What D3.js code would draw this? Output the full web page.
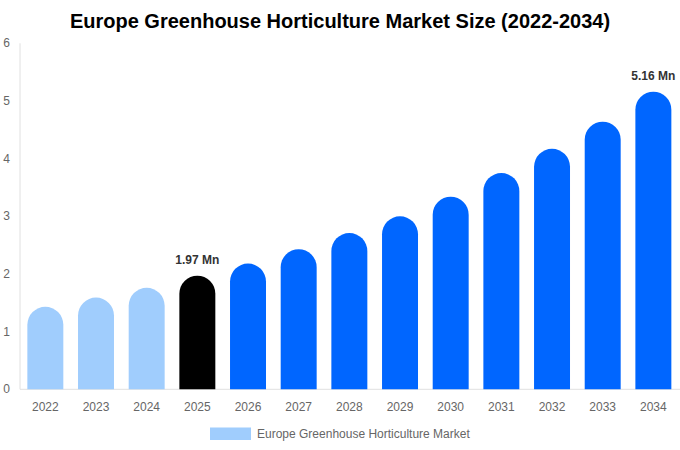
<!DOCTYPE html>
<html><head><meta charset="utf-8">
<script src="https://cdn.jsdelivr.net/npm/d3@7"></script>
<style>body{margin:0;background:#fff;font-family:"Liberation Sans",Arial,sans-serif;}</style>
</head><body><svg id="c" width="680" height="450"></svg>
<script>
const years = ["2022","2023","2024","2025","2026","2027","2028","2029","2030","2031","2032","2033","2034"];
const values = [1.43,1.59,1.76,1.97,2.18,2.43,2.71,3.0,3.34,3.75,4.17,4.64,5.16];
const yTicks = [0,1,2,3,4,5,6];
const labelled = {"2025":"1.97 Mn","2034":"5.16 Mn"};
const title = "Europe Greenhouse Horticulture Market Size (2022-2034)";
const legendLabel = "Europe Greenhouse Horticulture Market";

const svg = d3.select("#c");
const m = {l:20, r:1.3, t:43.3, b:60.7};
const W = 680, H = 450;
const x = d3.scaleBand().domain(years).range([m.l, W - m.r]).paddingInner(0.29).paddingOuter(0.145);
const y = d3.scaleLinear().domain([0,6]).range([H - m.b, m.t]);

function color(yr){ const n=+yr; return n<2025?"#a0cdfd":(n===2025?"#000000":"#0066ff"); }

svg.append("text").attr("x",340).attr("y",28).attr("text-anchor","middle")
  .attr("font-size",20).attr("font-weight","bold").attr("fill","#000").text(title);

// axes lines
svg.append("line").attr("x1",m.l).attr("x2",m.l).attr("y1",m.t).attr("y2",y(0)).attr("stroke","#e0e0e0");
svg.append("line").attr("x1",m.l).attr("x2",W).attr("y1",y(0)).attr("y2",y(0)).attr("stroke","#e0e0e0");

svg.selectAll(".yt").data(yTicks).enter().append("text")
  .attr("x",10).attr("y",d=>y(d)+4).attr("text-anchor","end")
  .attr("font-size",12).attr("fill","#666").text(d=>d);

svg.selectAll(".xt").data(years).enter().append("text")
  .attr("x",d=>x(d)+x.bandwidth()/2).attr("y",y(0)+22).attr("text-anchor","middle")
  .attr("font-size",12).attr("fill","#666").text(d=>d);

const bw = x.bandwidth(), r = bw/2;
svg.selectAll(".bar").data(years).enter().append("path")
  .attr("fill",d=>color(d))
  .attr("d",(d,i)=>{
    const x0=x(d), x1=x0+bw, yt=y(values[i]), yb=y(0);
    return `M${x0},${yb}L${x0},${yt+r}A${r},${r} 0 0 1 ${x1},${yt+r}L${x1},${yb}Z`;
  });

svg.selectAll(".lbl").data(years.filter(d=>labelled[d])).enter().append("text")
  .attr("x",d=>x(d)+bw/2).attr("y",d=>y(values[years.indexOf(d)])-12)
  .attr("text-anchor","middle").attr("font-size",12).attr("font-weight","bold").attr("fill","#333")
  .text(d=>labelled[d]);

svg.append("rect").attr("x",210).attr("y",427.5).attr("width",41).attr("height",12.5).attr("fill","#a0cdfd");
svg.append("text").attr("x",257).attr("y",437.5).attr("font-size",12).attr("fill","#666").text(legendLabel);
</script></body></html>
